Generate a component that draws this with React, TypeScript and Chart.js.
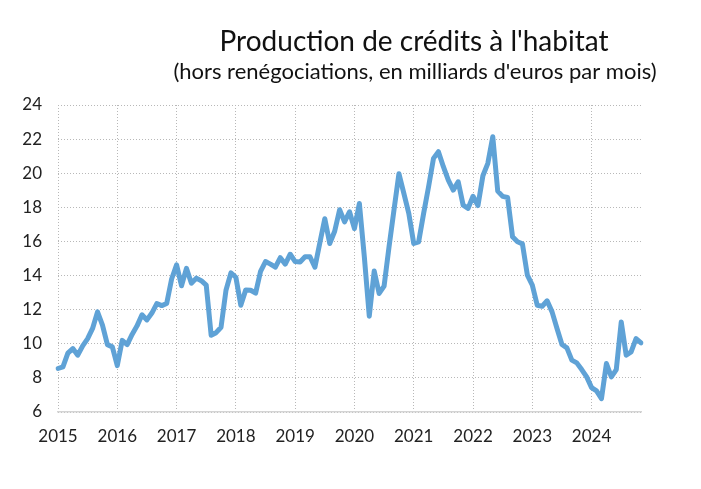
import React, { useEffect, useRef } from 'react';
import { Chart, registerables } from 'chart.js';

Chart.register(...registerables);

const TITLE = "Production de crédits à l'habitat";
const SUBTITLE = "(hors renégociations, en milliards d'euros par mois)";

const years = [2015, 2016, 2017, 2018, 2019, 2020, 2021, 2022, 2023, 2024];
const yTicks = [6, 8, 10, 12, 14, 16, 18, 20, 22, 24];

const values2015 = [8.55, 8.65, 9.45, 9.72, 9.33, 9.88, 10.3, 10.9, 11.87, 11.1, 9.95, 9.82];
const values2016 = [8.72, 10.2, 9.95, 10.55, 11.05, 11.7, 11.4, 11.8, 12.36, 12.24, 12.36, 13.8];
const values2017 = [14.63, 13.4, 14.42, 13.55, 13.85, 13.7, 13.44, 10.5, 10.65, 10.97, 13.14, 14.16];
const values2018 = [13.9, 12.26, 13.16, 13.14, 12.97, 14.25, 14.82, 14.67, 14.49, 15.05, 14.67, 15.25];
const values2019 = [14.82, 14.8, 15.1, 15.1, 14.49, 15.93, 17.33, 15.88, 16.6, 17.86, 17.15, 17.74];
const values2020 = [16.76, 18.23, 15.1, 11.62, 14.27, 12.95, 13.38, 15.68, 17.84, 19.97, 18.82, 17.65];
const values2021 = [15.88, 15.98, 17.64, 19.2, 20.87, 21.26, 20.38, 19.6, 19.01, 19.5, 18.13, 17.94];
const values2022 = [18.65, 18.1, 19.85, 20.58, 22.14, 18.95, 18.64, 18.58, 16.27, 15.98, 15.86, 14.02];
const values2023 = [13.44, 12.26, 12.2, 12.52, 11.87, 10.9, 9.96, 9.76, 9.04, 8.88, 8.49, 8.06];
const values2024 = [7.43, 7.24, 6.79, 8.84, 8.06, 8.49, 11.28, 9.33, 9.52, 10.3, 10.05];

const seriesByYear = [
  values2015, values2016, values2017, values2018, values2019,
  values2020, values2021, values2022, values2023, values2024,
];

const FONT = 'Lato, "Open Sans", sans-serif';

export default function App() {
  const canvasRef = useRef<HTMLCanvasElement | null>(null);

  useEffect(() => {
    document.body.style.margin = '0';
    const canvas = canvasRef.current;
    if (!canvas) return;

    const labels: string[] = [];
    const data: number[] = [];
    seriesByYear.forEach((vals, yi) => {
      vals.forEach((v, mi) => {
        labels.push(`${years[yi]}-${String(mi + 1).padStart(2, '0')}`);
        data.push(v);
      });
    });

    const titlePlugin = {
      id: 'customTitles',
      afterDraw(chart: any) {
        const ctx = chart.ctx;
        ctx.save();
        ctx.fillStyle = '#111';
        ctx.textAlign = 'center';
        ctx.textBaseline = 'middle';
        ctx.font = `28px ${FONT}`;
        ctx.fillText(TITLE, 414, 42);
        ctx.font = `22px ${FONT}`;
        ctx.fillText(SUBTITLE, 415, 72);
        ctx.restore();
      },
    };

    const gridColor = '#b8b8b8';
    const gridDash = [1, 2];

    const chart = new Chart(canvas, {
      type: 'line',
      data: {
        labels,
        datasets: [
          {
            data,
            borderColor: '#5fa2d6',
            borderWidth: 5,
            pointRadius: 0,
            tension: 0,
            borderJoinStyle: 'round',
            borderCapStyle: 'round',
            fill: false,
          },
        ],
      },
      options: {
        animation: false,
        responsive: false,
        devicePixelRatio: 1,
        layout: { padding: { top: 105, right: 60, left: 0, bottom: 0 } },
        plugins: {
          legend: { display: false },
          tooltip: { enabled: false },
          title: { display: false },
        },
        scales: {
          x: {
            type: 'category',
            offset: false,
            afterFit: (scale: any) => {
              scale.height = 77;
            },
            grid: {
              drawTicks: false,
              color: (ctx: any) => (ctx.index % 12 === 0 ? gridColor : 'rgba(0,0,0,0)'),
              lineWidth: 1,
            },
            border: { display: true, color: '#d4d4d4', width: 1.5, dash: gridDash },
            ticks: {
              autoSkip: false,
              maxRotation: 0,
              minRotation: 0,
              padding: 14,
              color: '#222',
              font: { family: FONT, size: 17 },
              callback: (_v: any, index: number) =>
                index % 12 === 0 ? String(years[index / 12]) : '',
            },
          },
          y: {
            min: yTicks[0],
            max: yTicks[yTicks.length - 1],
            afterFit: (scale: any) => {
              scale.width = 58;
            },
            afterBuildTicks: (scale: any) => {
              scale.ticks = yTicks.map((v) => ({ value: v }));
            },
            grid: {
              drawTicks: false,
              color: gridColor,
              lineWidth: 1,
            },
            border: { display: false, dash: gridDash },
            ticks: {
              padding: 16,
              color: '#222',
              font: { family: FONT, size: 17 },
            },
          },
        },
      },
      plugins: [titlePlugin],
    } as any);

    return () => chart.destroy();
  }, []);

  return (
    <div style={{ width: 701, height: 489, background: '#fff' }}>
      <canvas ref={canvasRef} width={701} height={489} style={{ display: 'block' }} />
    </div>
  );
}
